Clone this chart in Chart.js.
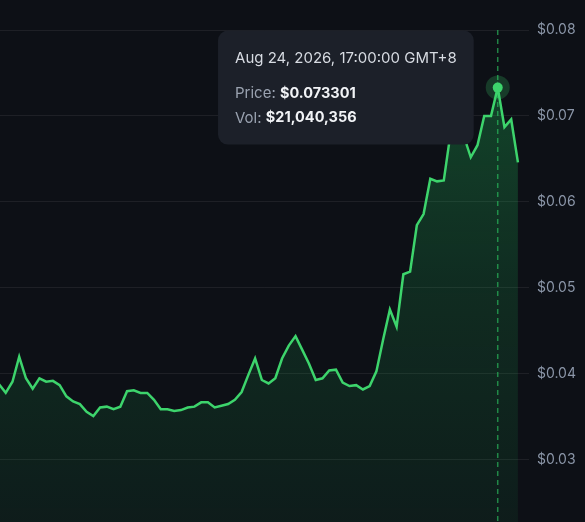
<!DOCTYPE html>
<html>
<head>
<meta charset="utf-8">
<script src="https://cdn.jsdelivr.net/npm/chart.js@4.4.1/dist/chart.umd.min.js"></script>
<style>
  html, body { margin: 0; padding: 0; background: #0d1016; overflow: hidden; height: 522px; }
  #wrap { width: 585px; height: 540px; }
</style>
</head>
<body>
<div id="wrap"><canvas id="priceChart"></canvas></div>
<script>
// ================= DATA =================
const prices = [
  0.0388, 0.0378, 0.0391, 0.0420, 0.0395, 0.0383, 0.0395, 0.0391, 0.0392, 0.0387,
  0.0374, 0.0368, 0.0365, 0.0356, 0.0351, 0.0361, 0.0362, 0.0359, 0.0362, 0.0380,
  0.0381, 0.0378, 0.0378, 0.0370, 0.0359, 0.0359, 0.0357, 0.0358, 0.0361, 0.0362,
  0.0367, 0.0367, 0.0361, 0.0363, 0.0365, 0.0370, 0.0379, 0.0399, 0.0418, 0.0393,
  0.0389, 0.0395, 0.0418, 0.0433, 0.0444, 0.0428, 0.0412, 0.0393, 0.0395, 0.0404,
  0.0405, 0.0390, 0.0386, 0.0387, 0.0382, 0.0386, 0.0403, 0.0440, 0.0475, 0.0455,
  0.0516, 0.0519, 0.0573, 0.0586, 0.0627, 0.0624, 0.0625, 0.0680, 0.0690, 0.0676,
  0.0652, 0.0666, 0.0700, 0.0700, 0.073301, 0.0687, 0.0696, 0.0646
];
const yTicks = [0.03, 0.04, 0.05, 0.06, 0.07, 0.08];

// hovered point shown in the tooltip
const hoverIndex = 74;
const hoverLabel = "Aug 24, 2026, 17:00:00 GMT+8";
const hoverVolume = 21040356;

const LINE = "rgb(61,212,108)";
const FONT = "Inter, 'Noto Sans', sans-serif";

// ================= HOVER MARKER + TOOLTIP =================
const hoverPlugin = {
  id: "hoverMarker",
  beforeDatasetsDraw(chart) {
    const { ctx, chartArea } = chart;
    const x = chart.scales.x.getPixelForValue(hoverIndex);
    ctx.save();
    ctx.strokeStyle = "rgba(40,170,85,0.75)";
    ctx.lineWidth = 1.5;
    ctx.setLineDash([5, 4]);
    ctx.beginPath();
    ctx.moveTo(x, chartArea.top);
    ctx.lineTo(x, chartArea.bottom);
    ctx.stroke();
    ctx.restore();
  },
  afterDatasetsDraw(chart) {
    const { ctx } = chart;
    const x = chart.scales.x.getPixelForValue(hoverIndex);
    const y = chart.scales.y.getPixelForValue(prices[hoverIndex]);

    ctx.save();
    ctx.fillStyle = "rgba(61,212,108,0.22)";
    ctx.beginPath();
    ctx.arc(x, y, 12, 0, Math.PI * 2);
    ctx.fill();
    ctx.fillStyle = LINE;
    ctx.beginPath();
    ctx.arc(x, y, 5, 0, Math.PI * 2);
    ctx.fill();

    // tooltip box
    const priceText = "$" + prices[hoverIndex].toFixed(6);
    const volText = "$" + hoverVolume.toLocaleString("en-US");
    ctx.font = "15px " + FONT;
    const titleW = ctx.measureText(hoverLabel).width;
    const pad = 17;
    const w = titleW + pad * 2;
    const h = 114;
    const bx = x - 24 - w;
    const by = y - h / 2;

    ctx.fillStyle = "#1c2029";
    ctx.beginPath();
    ctx.roundRect(bx, by, w, h, 10);
    ctx.fill();

    ctx.textBaseline = "middle";
    ctx.textAlign = "left";
    ctx.fillStyle = "#d7dbe2";
    ctx.fillText(hoverLabel, bx + pad, by + 28);

    const rows = [["Price: ", priceText, by + 63], ["Vol: ", volText, by + 87.5]];
    rows.forEach(([label, value, ty]) => {
      ctx.font = "15px " + FONT;
      ctx.fillStyle = "#9aa2b0";
      ctx.fillText(label, bx + pad, ty);
      const lw = ctx.measureText(label).width;
      ctx.font = "bold 14.5px " + FONT;
      ctx.fillStyle = "#f1f3f6";
      ctx.fillText(value, bx + pad + lw, ty);
    });
    ctx.restore();
  }
};

// ================= CHART =================
const canvas = document.getElementById("priceChart");

new Chart(canvas, {
  type: "line",
  data: {
    datasets: [{
      data: prices.map((p, i) => ({ x: i, y: p })),
      borderColor: LINE,
      borderWidth: 2.5,
      pointRadius: 0,
      tension: 0,
      fill: "start",
      backgroundColor: (c) => {
        const area = c.chart.chartArea;
        if (!area) return "rgba(34,197,94,0.15)";
        const g = c.chart.ctx.createLinearGradient(0, area.top, 0, area.bottom);
        g.addColorStop(0, "rgba(34,197,94,0.32)");
        g.addColorStop(0.5, "rgba(34,197,94,0.16)");
        g.addColorStop(1, "rgba(34,197,94,0.07)");
        return g;
      }
    }]
  },
  options: {
    responsive: true,
    maintainAspectRatio: false,
    animation: false,
    layout: { padding: { top: 30, right: 1, left: 0, bottom: 0 } },
    plugins: {
      legend: { display: false },
      tooltip: { enabled: false }
    },
    scales: {
      x: {
        type: "linear",
        display: false,
        min: 0.15,
        max: 78.64
      },
      y: {
        position: "right",
        min: 0.0226,
        max: 0.08,
        afterBuildTicks: (axis) => {
          axis.ticks = yTicks.map((v) => ({ value: v }));
        },
        grid: { color: "rgba(255,255,255,0.07)", drawTicks: false },
        border: { display: false },
        ticks: {
          color: "#8b96a8",
          padding: 8,
          font: { family: FONT, size: 14 },
          callback: (v) => "$" + v.toFixed(2)
        }
      }
    }
  },
  plugins: [hoverPlugin]
});
</script>
</body>
</html>
